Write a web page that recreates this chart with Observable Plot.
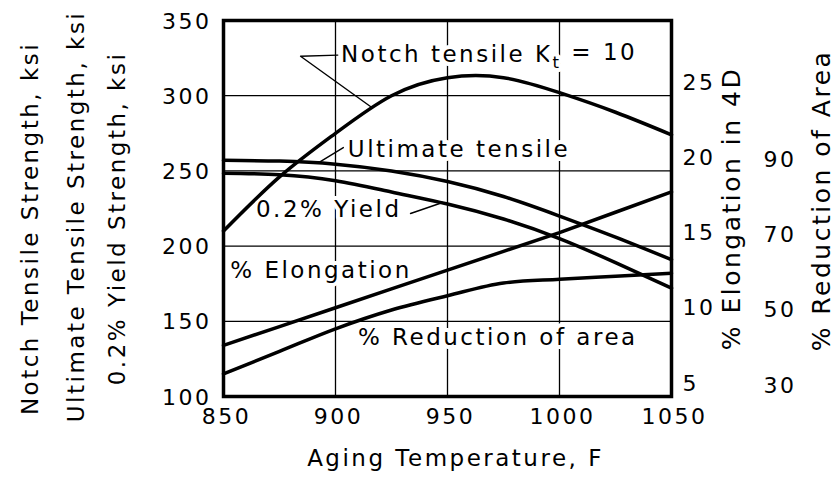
<!DOCTYPE html>
<html>
<head>
<meta charset="utf-8">
<script src="https://cdn.jsdelivr.net/npm/d3@7"></script>
<script src="https://cdn.jsdelivr.net/npm/@observablehq/plot@0.6"></script>
<style>
  html, body { margin: 0; padding: 0; background: white; }
</style>
</head>
<body>
<div id="chart"></div>
<script>
// ---- data ----
const temps = [850, 875, 900, 925, 950, 975, 1000, 1025, 1050];
const notchTensile = [210, 246, 275, 300, 312, 312, 302, 289, 274];        // ksi
const ultimateTensile = [257, 256.5, 254.5, 250, 243, 233, 220, 206, 191]; // ksi
const yieldStrength = [248.5, 247.5, 243.5, 236, 228, 218, 205, 189, 172]; // ksi
const elongation = [8.4, 9.65, 10.9, 12.15, 13.4, 14.65, 15.9, 17.25, 18.6]; // % in 4D
const reductionArea = [36.0, 42.0, 48.0, 53.0, 56.8, 60.2, 61.2, 62.0, 62.8]; // %

const xTicks = [850, 900, 950, 1000, 1050];
const strengthTicks = [100, 150, 200, 250, 300, 350];
const elongTicks = [5, 10, 15, 20, 25];
const raTicks = [30, 50, 70, 90];

// twin-axis mappings onto the strength (ksi) scale
const elongToKsi = e => 100 + (e - 5) * 10;
const raToKsi = r => 100 + (r - 30) * 2.5;

// annotations (data coordinates)
const curveLabels = [
  {text: "Notch tensile Kt = 10", x: 902.5, y: 327},
  {text: "Ultimate tensile", x: 905.5, y: 264},
  {text: "0.2% Yield", x: 864.5, y: 224},
  {text: "% Elongation", x: 853, y: 184},
  {text: "% Reduction of area", x: 910, y: 139}
];
const pointers = [
  {id: "n", x: 901, y: 327}, {id: "n", x: 884.4, y: 326.2}, {id: "n", x: 915.6, y: 292.8},
  {id: "u", x: 903.5, y: 265.5}, {id: "u", x: 892.5, y: 255.5},
  {id: "y", x: 933.5, y: 221.7}, {id: "y", x: 947.8, y: 229}
];

const series = (vals, f = v => v) => temps.map((t, i) => ({x: t, y: f(vals[i])}));

const lineOpts = {x: "x", y: "y", stroke: "black", strokeWidth: 3.5, strokeLinejoin: "round", strokeLinecap: "round"};
const titleOpts = {text: d => d, rotate: -90, textAnchor: "middle", lineAnchor: "middle"};

const chart = Plot.plot({
  width: 836,
  height: 478,
  marginLeft: 223,
  marginRight: 165,
  marginTop: 20,
  marginBottom: 82,
  x: {domain: [850, 1050], axis: null},
  y: {domain: [100, 350], axis: null},
  style: {fontFamily: "DejaVu Sans", fontSize: "22px", letterSpacing: "2.5px", background: "white", color: "black"},
  marks: [
    Plot.ruleY(strengthTicks.slice(1, -1), {stroke: "black", strokeWidth: 1.3}),
    Plot.ruleX(xTicks.slice(1, -1), {stroke: "black", strokeWidth: 1.3}),
    Plot.text(curveLabels, {x: "x", y: "y", text: "text", textAnchor: "start", fontSize: 23, fill: "black", stroke: "white", strokeWidth: 8, paintOrder: "stroke"}),
    Plot.line(series(notchTensile), {...lineOpts, curve: "natural"}),
    Plot.line(series(ultimateTensile), {...lineOpts, curve: "natural"}),
    Plot.line(series(yieldStrength), {...lineOpts, curve: "natural"}),
    Plot.line(series(elongation, elongToKsi), {...lineOpts, curve: "linear"}),
    Plot.line(series(reductionArea, raToKsi), {...lineOpts, curve: "monotone-x"}),
    Plot.line(pointers, {x: "x", y: "y", z: "id", stroke: "black", strokeWidth: 1.4}),
    Plot.frame({stroke: "black", strokeWidth: 3.5}),
    // tick labels
    Plot.text(xTicks, {x: d => d, text: d => String(d), frameAnchor: "bottom", lineAnchor: "middle", dy: 20, dx: 3, fontSize: 22}),
    Plot.text(strengthTicks, {y: d => d, text: d => String(d), frameAnchor: "left", textAnchor: "end", lineAnchor: "middle", dx: -12, dy: 1, fontSize: 22}),
    Plot.text(elongTicks, {y: d => elongToKsi(d), text: d => String(d), frameAnchor: "right", textAnchor: "start", lineAnchor: "middle", dx: 11, dy: -13, fontSize: 22}),
    Plot.text(raTicks, {y: d => raToKsi(d), text: d => String(d), frameAnchor: "right", textAnchor: "start", lineAnchor: "middle", dx: 92, dy: -11, fontSize: 22}),
    // axis titles
    Plot.text(["Notch Tensile Strength, ksi"], {...titleOpts, frameAnchor: "left", dx: -193, dy: 20, fontSize: 23}),
    Plot.text(["Ultimate Tensile Strength, ksi"], {...titleOpts, frameAnchor: "left", dx: -147, dy: 8, fontSize: 23}),
    Plot.text(["0.2% Yield Strength, ksi"], {...titleOpts, frameAnchor: "left", dx: -106, dy: 10, fontSize: 23}),
    Plot.text(["% Elongation in 4D"], {...titleOpts, frameAnchor: "right", dx: 60, dy: 0, fontSize: 25}),
    Plot.text(["% Reduction of Area"], {...titleOpts, frameAnchor: "right", dx: 150, dy: -8, fontSize: 25}),
    Plot.text(["Aging Temperature, F"], {text: d => d, frameAnchor: "bottom", textAnchor: "middle", lineAnchor: "middle", dy: 62, dx: 8, fontSize: 23})
  ]
});

// subscript t in K_t
d3.select(chart).selectAll("text").filter(function() {
  return this.textContent === "Notch tensile Kt = 10";
}).each(function() {
  const t = d3.select(this);
  t.text(null);
  t.append("tspan").text("Notch tensile K");
  t.append("tspan").attr("dy", "0.35em").attr("font-size", "0.72em").text("t");
  t.append("tspan").attr("dy", "-0.35em").text(" = 10");
});

document.getElementById("chart").appendChild(chart);
</script>
</body>
</html>
